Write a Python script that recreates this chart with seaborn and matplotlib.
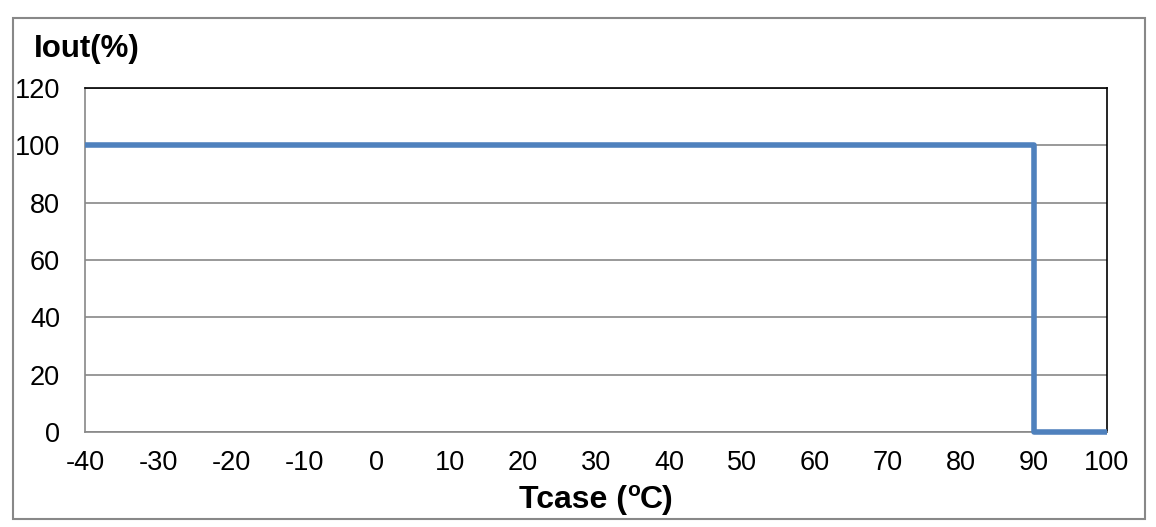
import matplotlib
matplotlib.use("Agg")
import matplotlib.pyplot as plt
import seaborn as sns
import pandas as pd
from matplotlib.patches import Rectangle

# derating curve: full current up to 90 C, then zero
tcase = [-40, 90, 90, 100]
iout = [100, 100, 0, 0]
x_ticks = list(range(-40, 101, 10))
y_ticks = list(range(0, 121, 20))

sns.set_style("white")
plt.rcParams['font.family'] = ['Liberation Sans', 'DejaVu Sans']
plt.rcParams['axes.unicode_minus'] = False
plt.rcParams['text.color'] = 'black'

df = pd.DataFrame({'Tcase': tcase, 'Iout': iout})

fig = plt.figure(figsize=(11.56, 5.27), dpi=100)
ax = fig.add_axes([0.0735, 0.1803, 0.8841, 0.6527])

sns.lineplot(data=df, x='Tcase', y='Iout', sort=False, estimator=None,
             color='#4F81BD', linewidth=4, ax=ax, clip_on=False,
             solid_joinstyle='round', solid_capstyle='butt', zorder=5)

ax.set_xlim(-40, 100)
ax.set_ylim(0, 120)
ax.set_xticks(x_ticks)
ax.set_yticks(y_ticks)
ax.tick_params(axis='both', labelsize=19.5, colors='#888888', labelcolor='black',
               direction='out', length=8, width=1.2)
ax.tick_params(axis='x', pad=5)
ax.tick_params(axis='y', pad=10)
ax.grid(axis='y', color='#888888', linewidth=1.2)
ax.set_axisbelow(True)

for side in ['left', 'bottom']:
    ax.spines[side].set_color('#888888')
    ax.spines[side].set_linewidth(1.2)
for side in ['top', 'right']:
    ax.spines[side].set_color('black')
    ax.spines[side].set_linewidth(1.2)

ax.set_xlabel('')
ax.set_ylabel('')

# x label "Tcase (oC)" with a raised small o, built from three pieces
renderer = fig.canvas.get_renderer()
W = fig.bbox.width
base = 0.036
parts = [('Tcase (', 23, 0.0), ('o', 15, 0.022), ('C)', 23, 0.0)]
texts = [fig.text(0, base + dy, s, fontsize=fs, fontweight='bold', ha='left', va='baseline')
         for s, fs, dy in parts]
widths = [t.get_window_extent(renderer).width for t in texts]
x = (596 - sum(widths) / 2) / W
for t, w, (s, fs, dy) in zip(texts, widths, parts):
    t.set_position((x, base + dy))
    x += w / W

fig.text(0.029, 0.892, 'Iout(%)', fontsize=22.5, fontweight='bold', ha='left', va='baseline')

fig.patches.append(Rectangle((13 / 1156, 1 - 519 / 527), (1145 - 13) / 1156, (519 - 18) / 527,
                             transform=fig.transFigure, fill=False, edgecolor='#888888', linewidth=1.5))

fig.savefig('out.png', dpi=100)
